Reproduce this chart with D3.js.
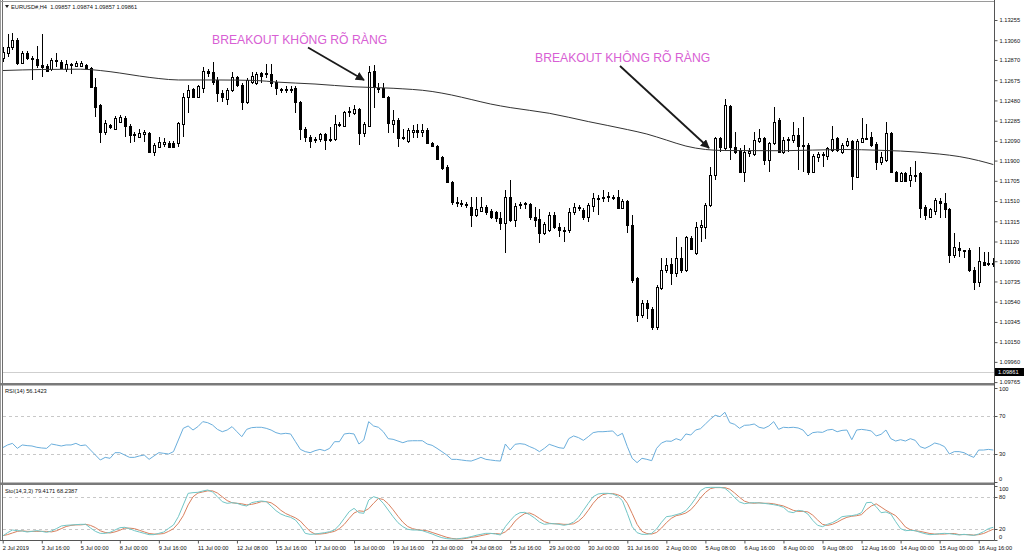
<!DOCTYPE html>
<html><head><meta charset="utf-8">
<script src="https://cdn.jsdelivr.net/npm/d3@7"></script>
<style>
html,body{margin:0;padding:0;background:#fff;}
svg{display:block;}
</style></head><body>
<svg id="c" width="1024" height="555"></svg>
<script>
// ---------- DATA ----------
const openP = [1.1289,1.1294,1.1299,1.1306,1.1284,1.1294,1.1289,1.1288,1.1282,1.1281,
1.1278,1.1286,1.1285,1.1278,1.1283,1.1281,1.1281,1.1282,1.1279,1.1261,
1.1244,1.1218,1.1224,1.1220,1.1227,1.1231,1.1223,1.1216,1.1213,1.1216,
1.1217,1.1198,1.1203,1.1206,1.1207,1.1207,1.1207,1.1225,1.1251,1.1259,
1.1251,1.1260,1.1276,1.1275,1.1268,1.1255,1.1249,1.1258,1.1271,1.1263,
1.1246,1.1266,1.1265,1.1274,1.1273,1.1273,1.1266,1.1259,1.1258,1.1259,
1.1260,1.1246,1.1220,1.1213,1.1211,1.1211,1.1216,1.1210,1.1211,1.1225,
1.1223,1.1237,1.1236,1.1240,1.1217,1.1223,1.1276,1.1260,1.1260,1.1251,
1.1225,1.1229,1.1213,1.1209,1.1218,1.1219,1.1218,1.1219,1.1207,1.1204,
1.1193,1.1184,1.1169,1.1150,1.1149,1.1148,1.1145,1.1138,1.1141,1.1145,
1.1141,1.1140,1.1135,1.1130,1.1155,1.1133,1.1147,1.1148,1.1148,1.1136,
1.1134,1.1120,1.1123,1.1138,1.1126,1.1123,1.1123,1.1140,1.1144,1.1142,
1.1136,1.1146,1.1153,1.1154,1.1155,1.1154,1.1155,1.1144,1.1151,1.1128,
1.1077,1.1041,1.1053,1.1047,1.1030,1.1067,1.1085,1.1090,1.1082,1.1096,
1.1085,1.1115,1.1101,1.1126,1.1126,1.1147,1.1176,1.1212,1.1202,1.1243,
1.1203,1.1200,1.1179,1.1197,1.1196,1.1209,1.1212,1.1191,1.1207,1.1229,
1.1198,1.1210,1.1210,1.1215,1.1205,1.1205,1.1179,1.1193,1.1195,1.1194,
1.1200,1.1212,1.1198,1.1205,1.1209,1.1174,1.1208,1.1211,1.1213,1.1206,
1.1189,1.1191,1.1217,1.1179,1.1170,1.1178,1.1171,1.1176,1.1178,1.1145,
1.1136,1.1141,1.1151,1.1149,1.1143,1.1099,1.1106,1.1104,1.1104,1.1085,
1.1073,1.1092,1.1091,1.1090];
const highP = [1.1299,1.1312,1.1313,1.1308,1.1296,1.1296,1.1291,1.1300,1.1312,1.1283,
1.1289,1.1294,1.1287,1.1287,1.1284,1.1286,1.1286,1.1283,1.1280,1.1270,
1.1245,1.1229,1.1225,1.1233,1.1234,1.1233,1.1225,1.1218,1.1220,1.1219,
1.1218,1.1207,1.1213,1.1212,1.1209,1.1209,1.1227,1.1255,1.1263,1.1260,
1.1263,1.1280,1.1278,1.1285,1.1271,1.1258,1.1260,1.1275,1.1272,1.1265,
1.1270,1.1275,1.1275,1.1275,1.1283,1.1283,1.1268,1.1260,1.1262,1.1262,
1.1262,1.1247,1.1222,1.1215,1.1213,1.1217,1.1217,1.1222,1.1234,1.1227,
1.1238,1.1242,1.1244,1.1241,1.1227,1.1281,1.1282,1.1265,1.1265,1.1252,
1.1239,1.1231,1.1220,1.1221,1.1224,1.1225,1.1225,1.1221,1.1208,1.1205,
1.1194,1.1186,1.1170,1.1155,1.1152,1.1150,1.1155,1.1155,1.1155,1.1147,
1.1143,1.1141,1.1140,1.1162,1.1171,1.1149,1.1150,1.1150,1.1149,1.1145,
1.1143,1.1131,1.1140,1.1140,1.1130,1.1126,1.1144,1.1149,1.1147,1.1144,
1.1149,1.1159,1.1157,1.1162,1.1160,1.1157,1.1162,1.1153,1.1152,1.1138,
1.1078,1.1056,1.1056,1.1049,1.1070,1.1096,1.1096,1.1096,1.1116,1.1107,
1.1117,1.1117,1.1131,1.1133,1.1149,1.1184,1.1213,1.1213,1.1249,1.1244,
1.1218,1.1202,1.1205,1.1202,1.1218,1.1220,1.1213,1.1208,1.1242,1.1231,
1.1213,1.1213,1.1227,1.1221,1.1232,1.1207,1.1196,1.1198,1.1198,1.1203,
1.1223,1.1213,1.1207,1.1212,1.1210,1.1211,1.1231,1.1225,1.1218,1.1208,
1.1198,1.1227,1.1218,1.1180,1.1179,1.1179,1.1184,1.1190,1.1179,1.1147,
1.1144,1.1154,1.1154,1.1159,1.1144,1.1120,1.1112,1.1104,1.1106,1.1087,
1.1107,1.1102,1.1102,1.1096];
const lowP = [1.1285,1.1290,1.1297,1.1282,1.1283,1.1287,1.1268,1.1279,1.1271,1.1275,
1.1276,1.1280,1.1278,1.1275,1.1273,1.1280,1.1280,1.1278,1.1260,1.1232,
1.1207,1.1215,1.1220,1.1219,1.1226,1.1213,1.1207,1.1208,1.1212,1.1208,
1.1197,1.1194,1.1202,1.1203,1.1202,1.1202,1.1203,1.1213,1.1236,1.1250,
1.1250,1.1255,1.1271,1.1263,1.1246,1.1246,1.1244,1.1256,1.1261,1.1239,
1.1245,1.1264,1.1263,1.1265,1.1270,1.1261,1.1253,1.1255,1.1255,1.1255,
1.1236,1.1210,1.1208,1.1202,1.1207,1.1208,1.1200,1.1208,1.1209,1.1222,
1.1222,1.1232,1.1234,1.1205,1.1213,1.1222,1.1241,1.1255,1.1250,1.1217,
1.1217,1.1203,1.1210,1.1207,1.1212,1.1212,1.1213,1.1206,1.1203,1.1191,
1.1181,1.1168,1.1147,1.1145,1.1145,1.1144,1.1126,1.1136,1.1140,1.1138,
1.1134,1.1131,1.1123,1.1101,1.1131,1.1126,1.1143,1.1143,1.1133,1.1126,
1.1111,1.1118,1.1121,1.1124,1.1116,1.1112,1.1120,1.1138,1.1141,1.1133,
1.1131,1.1140,1.1138,1.1150,1.1150,1.1152,1.1143,1.1143,1.1120,1.1072,
1.1034,1.1038,1.1037,1.1027,1.1027,1.1065,1.1082,1.1070,1.1078,1.1082,
1.1083,1.1104,1.1099,1.1112,1.1114,1.1145,1.1171,1.1198,1.1200,1.1191,
1.1196,1.1178,1.1169,1.1193,1.1194,1.1207,1.1186,1.1179,1.1205,1.1197,
1.1196,1.1198,1.1207,1.1181,1.1179,1.1176,1.1178,1.1189,1.1184,1.1191,
1.1198,1.1198,1.1196,1.1203,1.1162,1.1173,1.1207,1.1210,1.1203,1.1181,
1.1186,1.1189,1.1178,1.1169,1.1169,1.1169,1.1165,1.1169,1.1135,1.1133,
1.1135,1.1138,1.1135,1.1135,1.1091,1.1096,1.1097,1.1096,1.1083,1.1065,
1.1068,1.1088,1.1088,1.1087];
const closeP = [1.1295,1.1299,1.1306,1.1284,1.1294,1.1289,1.1288,1.1282,1.1280,1.1276,
1.1287,1.1287,1.1279,1.1283,1.1282,1.1284,1.1284,1.1279,1.1261,1.1242,
1.1218,1.1226,1.1222,1.1231,1.1232,1.1223,1.1215,1.1215,1.1217,1.1218,
1.1198,1.1205,1.1208,1.1208,1.1203,1.1203,1.1226,1.1251,1.1258,1.1251,
1.1262,1.1276,1.1274,1.1266,1.1255,1.1251,1.1258,1.1271,1.1263,1.1246,
1.1268,1.1272,1.1273,1.1272,1.1274,1.1265,1.1260,1.1258,1.1259,1.1258,
1.1246,1.1220,1.1213,1.1209,1.1210,1.1216,1.1210,1.1211,1.1225,1.1224,
1.1237,1.1238,1.1240,1.1217,1.1225,1.1275,1.1261,1.1259,1.1251,1.1226,
1.1229,1.1212,1.1212,1.1219,1.1219,1.1218,1.1219,1.1207,1.1204,1.1192,
1.1183,1.1169,1.1150,1.1149,1.1148,1.1147,1.1138,1.1143,1.1145,1.1140,
1.1136,1.1135,1.1130,1.1155,1.1133,1.1146,1.1148,1.1149,1.1136,1.1133,
1.1120,1.1129,1.1138,1.1126,1.1123,1.1122,1.1140,1.1145,1.1145,1.1136,
1.1147,1.1154,1.1154,1.1155,1.1156,1.1155,1.1144,1.1151,1.1128,1.1075,
1.1041,1.1053,1.1048,1.1030,1.1068,1.1085,1.1089,1.1082,1.1096,1.1085,
1.1116,1.1105,1.1126,1.1128,1.1147,1.1176,1.1212,1.1203,1.1244,1.1203,
1.1198,1.1179,1.1198,1.1199,1.1210,1.1212,1.1191,1.1207,1.1227,1.1198,
1.1210,1.1211,1.1215,1.1204,1.1204,1.1179,1.1194,1.1196,1.1196,1.1202,
1.1211,1.1200,1.1205,1.1209,1.1175,1.1209,1.1212,1.1212,1.1205,1.1189,
1.1193,1.1217,1.1179,1.1170,1.1178,1.1170,1.1176,1.1175,1.1144,1.1138,
1.1143,1.1152,1.1149,1.1143,1.1099,1.1107,1.1104,1.1103,1.1085,1.1073,
1.1093,1.1089,1.1090,1.1091];

// moving average, read at selected bars
const maIndex = [0,8,16,20,24,28,32,36,44,52,56,64,72,80,88,92,96,100,104,112,120,128,132,136,140,144,148,160,172,180,184,192,196,200,203];
const maValue = [1.12768,1.12778,1.12781,1.12768,1.12744,1.12715,1.12691,1.12677,1.12677,1.12672,1.12657,1.12638,1.12611,1.12597,1.12566,1.12532,1.12489,1.12445,1.12411,1.12356,1.12276,1.12199,1.12156,1.12098,1.12040,1.12007,1.11997,1.11995,1.12007,1.11999,1.11992,1.11963,1.11939,1.11900,1.11862];

const rsi = [36.5,39.4,41.1,35.8,39.4,38.7,38.3,36.9,36.2,35.8,
40.4,39.4,38.3,39.4,39.4,41.1,38.7,39.4,34.0,28.7,
23.4,26.2,25.2,31.2,31.2,28.7,26.2,26.2,27.7,28.7,
24.1,27.7,31.2,30.5,29.8,32.3,44.7,57.1,59.6,55.3,
58.9,64.2,63.1,60.6,56.0,53.5,55.3,58.9,53.5,48.2,
56.0,57.8,58.2,58.2,57.1,55.3,52.5,51.1,51.8,51.1,
42.9,34.7,32.3,31.2,33.3,34.7,33.3,35.8,42.9,42.9,
51.1,51.8,51.1,40.4,44.7,64.2,59.6,58.2,53.5,46.1,
45.4,43.6,41.8,43.6,43.9,43.9,43.9,40.4,39.0,35.8,
32.3,28.7,24.1,24.1,23.4,22.7,22.3,24.1,26.2,24.1,
23.4,22.7,22.3,40.4,34.0,40.1,40.8,40.1,37.6,35.5,
32.3,35.8,40.1,38.3,36.5,35.8,46.1,49.0,47.2,44.3,
48.2,52.5,53.5,53.5,53.9,54.3,49.0,51.8,37.6,25.2,
20.6,25.2,24.1,22.7,35.8,41.5,43.6,43.3,46.1,44.3,
51.1,50.0,55.3,56.7,61.7,66.7,71.0,69.5,74.2,63.1,
61.3,57.1,60.3,60.6,61.7,58.2,57.1,59.6,64.2,56.0,
58.2,57.8,58.2,57.5,55.3,49.0,52.5,53.2,52.8,55.3,
56.0,53.5,54.9,55.3,45.0,55.3,56.0,55.3,54.3,49.0,
50.7,55.3,46.1,43.6,45.0,43.6,46.1,44.3,37.6,35.8,
38.3,41.5,40.1,37.6,29.8,32.3,32.3,31.2,28.4,26.2,
34.0,34.0,34.7,34.0];

const stochK = [7.4,13.6,18.5,17.3,16.7,14.8,16.0,17.3,16.0,14.2,
16.7,21.0,25.9,27.2,27.8,28.4,29.0,29.0,22.2,16.0,
12.3,12.3,14.2,18.5,22.8,23.5,21.0,17.3,14.8,12.3,
9.9,9.9,12.3,14.8,21.6,27.8,43.2,64.8,86.4,87.7,
88.3,90.7,92.6,88.9,80.2,71.0,67.9,69.1,67.9,64.8,
63.0,69.1,71.0,72.2,71.0,63.0,54.3,48.1,44.4,42.0,
37.0,25.9,12.3,10.5,11.1,12.3,13.6,15.4,18.5,27.8,
40.1,52.5,58.6,50.6,49.4,74.0,80.2,77.2,67.9,55.5,
43.2,32.1,24.7,19.8,18.5,18.5,17.3,14.2,11.1,7.4,
4.3,2.5,1.9,1.9,3.1,4.3,6.2,8.6,10.5,12.3,
12.3,11.1,9.3,24.7,35.8,45.7,50.6,51.2,46.9,40.7,
33.3,29.0,30.2,30.2,29.0,27.2,29.0,33.3,42.0,54.9,
67.9,80.2,85.2,86.4,86.4,85.2,81.5,72.8,49.4,24.7,
13.6,10.5,10.5,12.3,20.4,32.7,43.2,44.4,46.9,49.4,
54.3,64.8,77.2,91.4,96.9,97.5,97.5,97.5,95.7,88.3,
78.4,70.4,67.3,68.5,69.1,68.5,67.9,66.7,65.4,63.6,
60.5,52.5,50.6,54.9,53.7,48.1,36.4,27.2,24.7,29.0,
32.1,37.0,43.2,44.4,45.1,46.9,50.6,69.1,69.8,61.7,
50.6,51.9,48.1,33.9,21.0,17.3,17.9,17.3,14.2,11.7,
9.9,10.5,11.7,12.3,11.7,10.5,9.3,10.5,9.3,8.6,
11.1,15.4,21.0,23.5];

const stochD = [8,10,13,16,17,16,16,16,16,16,
15,17,21,25,27,28,28,29,27,23,
17,14,13,15,18,22,22,21,18,15,
12,11,11,12,16,21,31,45,65,80,
87,89,91,91,87,80,73,69,68,67,
65,66,68,71,71,69,63,55,49,45,
41,35,25,16,11,11,12,14,16,21,
29,40,50,54,53,58,68,77,75,67,
56,44,33,25,21,19,18,17,14,11,
8,5,3,2,2,3,5,6,8,10,
12,12,11,15,23,35,43,49,50,46,
40,34,31,30,30,29,29,30,35,43,
55,68,78,84,86,86,84,80,68,49,
29,16,12,11,14,22,32,40,45,47,
50,56,66,78,88,95,97,97,97,94,
87,79,72,69,68,69,68,68,67,65,
63,59,55,53,53,52,46,37,29,27,
29,33,38,42,44,45,47,56,63,67,
61,55,50,45,35,24,19,17,16,14,
12,11,11,11,12,12,10,10,10,9,
10,12,16,20];

const timeLabels = ["2 Jul 2019","3 Jul 16:00","5 Jul 00:00","8 Jul 00:00","9 Jul 16:00","11 Jul 00:00","12 Jul 08:00","15 Jul 16:00","17 Jul 00:00","18 Jul 00:00","19 Jul 16:00","23 Jul 00:00","24 Jul 08:00","25 Jul 16:00","29 Jul 00:00","30 Jul 00:00","31 Jul 16:00","2 Aug 00:00","5 Aug 08:00","6 Aug 16:00","8 Aug 00:00","9 Aug 08:00","12 Aug 16:00","14 Aug 00:00","15 Aug 00:00","16 Aug 16:00"];
const priceTicks = [1.13255,1.13060,1.12870,1.12675,1.12480,1.12285,1.12090,1.11900,1.11705,1.11510,1.11315,1.11120,1.10930,1.10735,1.10540,1.10345,1.10150,1.09960,1.09765];
const rsiLevels = [70,30];
const rsiTicks = [100,70,30,0];
const stochLevels = [80,20];
const stochTicks = [100,80,20,0];
const bidPrice = 1.09861;
const headerText = "EURUSD#,H4  1.09857 1.09874 1.09857 1.09861";
const rsiText = "RSI(14) 56.1423";
const stochText = "Sto(14,3,3) 79.4171 68.2387";
const notes = [
  {text:"BREAKOUT KHÔNG RÕ RÀNG", from:[308,47.5], to:[364,80], tx:212, ty:43.5},
  {text:"BREAKOUT KHÔNG RÕ RÀNG", from:[620,66], to:[709,148], tx:535, ty:62}
];

// ---------- LAYOUT ----------
const plotR = 994;
const mainTop = 1.5, mainBot = 383.5;
const rsiTop = 385.5, rsiBot = 482.5;
const stTop = 485.5, stBot = 540.5;
const smallFont = "'Liberation Sans', Arial, sans-serif";

const svg = d3.select("#c");
const N = openP.length;
const x = d3.scaleLinear().domain([0, N - 1]).range([2.7, 993.3]);
const yP = d3.scaleLinear().domain([1.09765, 1.13255]).range([382.1, 20]);
const yR = d3.scaleLinear().domain([0, 100]).range([482, 388]);
const yS = d3.scaleLinear().domain([0, 100]).range([540, 486]);

svg.append("rect").attr("width",1024).attr("height",555).attr("fill","#fff");

// clip for main
const defs = svg.append("defs");
defs.append("clipPath").attr("id","clipMain").append("rect")
  .attr("x",3).attr("y",mainTop).attr("width",plotR-3).attr("height",mainBot-mainTop);
defs.append("marker").attr("id","ah").attr("viewBox","0 0 10 10")
  .attr("refX",9).attr("refY",5).attr("markerWidth",5).attr("markerHeight",5)
  .attr("orient","auto").attr("markerUnits","strokeWidth")
  .append("path").attr("d","M0,0 L10,5 L0,10 z").attr("fill","#1a1a1a");

// bid line
svg.append("line").attr("x1",3).attr("x2",plotR).attr("y1",Math.round(yP(bidPrice))+0.5).attr("y2",Math.round(yP(bidPrice))+0.5)
  .attr("stroke","#cfcfcf").attr("stroke-width",1);

// RSI / stoch level lines
const lv = svg.append("g").attr("stroke","#c8c8c8").attr("stroke-dasharray","3,3").attr("stroke-width",1);
rsiLevels.forEach(v=>lv.append("line").attr("x1",3).attr("x2",plotR).attr("y1",Math.round(yR(v))+0.5).attr("y2",Math.round(yR(v))+0.5));
stochLevels.forEach(v=>lv.append("line").attr("x1",3).attr("x2",plotR).attr("y1",Math.round(yS(v))+0.5).attr("y2",Math.round(yS(v))+0.5));

// candles
const cg = svg.append("g").attr("clip-path","url(#clipMain)");
d3.range(N).forEach(i=>{
  const cx = Math.round(x(i)) + 0.5;
  const o = openP[i], c = closeP[i], h = highP[i], l = lowP[i];
  cg.append("line").attr("x1",cx).attr("x2",cx)
    .attr("y1",Math.round(yP(h))).attr("y2",Math.round(yP(l)))
    .attr("stroke","#000").attr("stroke-width",1);
  const top = Math.round(yP(Math.max(o,c))), bot = Math.round(yP(Math.min(o,c)));
  if (bot - top < 1) {
    cg.append("line").attr("x1",cx-1.5).attr("x2",cx+1.5).attr("y1",top+0.5).attr("y2",top+0.5)
      .attr("stroke","#000").attr("stroke-width",1);
  } else {
    cg.append("rect").attr("x",cx-1).attr("y",top+0.5).attr("width",2).attr("height",bot-top)
      .attr("fill", c >= o ? "#fff" : "#000").attr("stroke","#000").attr("stroke-width",1);
  }
});

// moving average
cg.append("path").datum(maIndex.map((b,k)=>[b,maValue[k]]))
  .attr("d", d3.line().x(d=>x(d[0])).y(d=>yP(d[1])).curve(d3.curveMonotoneX))
  .attr("fill","none").attr("stroke","#333").attr("stroke-width",1);

// RSI line
svg.append("path").datum(rsi)
  .attr("d", d3.line().x((d,i)=>x(i)).y(d=>yR(d)))
  .attr("fill","none").attr("stroke","#6aaedc").attr("stroke-width",1);

// Stoch lines
svg.append("path").datum(stochD)
  .attr("d", d3.line().x((d,i)=>x(i)).y(d=>yS(d)))
  .attr("fill","none").attr("stroke","#d9805e").attr("stroke-width",1);
svg.append("path").datum(stochK)
  .attr("d", d3.line().x((d,i)=>x(i)).y(d=>yS(d)))
  .attr("fill","none").attr("stroke","#72c6c6").attr("stroke-width",1);

// frames
const fr = svg.append("g").attr("fill","none");
fr.append("line").attr("x1",0.5).attr("x2",0.5).attr("y1",0).attr("y2",541).attr("stroke","#9a9a9a");
fr.append("line").attr("x1",2.5).attr("x2",2.5).attr("y1",0).attr("y2",541).attr("stroke","#6e6e6e");
fr.append("line").attr("x1",0).attr("x2",plotR).attr("y1",mainTop).attr("y2",mainTop).attr("stroke","#9a9a9a");
fr.append("rect").attr("x",0).attr("y",383).attr("width",plotR).attr("height",2.5).attr("fill","#7a7a7a").attr("stroke","none");
fr.append("rect").attr("x",0).attr("y",482.5).attr("width",plotR).attr("height",2.5).attr("fill","#7a7a7a").attr("stroke","none");
fr.append("line").attr("x1",0).attr("x2",plotR+0.5).attr("y1",stBot).attr("y2",stBot).attr("stroke","#555");
fr.append("line").attr("x1",plotR+0.5).attr("x2",plotR+0.5).attr("y1",0).attr("y2",stBot).attr("stroke","#555");

// price axis
const pa = svg.append("g").attr("transform",`translate(${plotR+0.5},0)`)
  .call(d3.axisRight(yP).tickValues(priceTicks).tickFormat(d3.format(".5f")).tickSize(3).tickPadding(2));
pa.select(".domain").remove();
pa.selectAll("text").attr("font-size","5.7px").attr("font-family",smallFont).attr("fill","#111");
pa.selectAll("line").attr("stroke","#555");

// bid label
const bidY = Math.round(yP(bidPrice));
svg.append("rect").attr("x",plotR+1).attr("y",bidY-4).attr("width",30).attr("height",8).attr("fill","#000");
svg.append("text").attr("x",plotR+4).attr("y",bidY+2).text(d3.format(".5f")(bidPrice))
  .attr("font-size","5.7px").attr("font-family",smallFont).attr("fill","#fff");

// RSI & stoch right labels
function sideLabels(ticks, scale, top, bot){
  ticks.forEach(v=>{
    const yy = scale(v);
    const cy = Math.max(top+3.5, Math.min(bot-3.5, yy));
    svg.append("line").attr("x1",plotR+0.5).attr("x2",plotR+3.5).attr("y1",Math.round(yy)+0.5).attr("y2",Math.round(yy)+0.5).attr("stroke","#555");
    svg.append("text").attr("x",plotR+5).attr("y",cy+2).text(v)
      .attr("font-size","5.7px").attr("font-family",smallFont).attr("fill","#111");
  });
}
sideLabels(rsiTicks, yR, rsiTop, rsiBot);
sideLabels(stochTicks, yS, stTop, stBot);

// time axis
const labelBars = timeLabels.map((t,k)=>k*8);
const ta = svg.append("g").attr("transform",`translate(0,${stBot})`)
  .call(d3.axisBottom(x).tickValues(labelBars).tickFormat((d,k)=>timeLabels[k]).tickSize(3).tickPadding(2));
ta.select(".domain").remove();
ta.selectAll("line").attr("stroke","#555");
ta.selectAll("text").attr("text-anchor","start").attr("dx","-0.5").attr("font-size","5.7px")
  .attr("font-family",smallFont).attr("fill","#111");

// header texts
svg.append("path").attr("d","M5,5 L9,5 L7,8 z").attr("fill","#222");
svg.append("text").attr("x",11).attr("y",8.5).text(headerText)
  .attr("font-size","5.7px").attr("font-family",smallFont).attr("fill","#111").attr("xml:space","preserve");
svg.append("text").attr("x",5).attr("y",393).text(rsiText)
  .attr("font-size","5.7px").attr("font-family",smallFont).attr("fill","#111");
svg.append("text").attr("x",5).attr("y",493).text(stochText)
  .attr("font-size","5.7px").attr("font-family",smallFont).attr("fill","#111");

// annotations
notes.forEach(n=>{
  svg.append("line").attr("x1",n.from[0]).attr("y1",n.from[1]).attr("x2",n.to[0]).attr("y2",n.to[1])
    .attr("stroke","#1a1a1a").attr("stroke-width",1.8).attr("marker-end","url(#ah)");
  svg.append("text").attr("x",n.tx).attr("y",n.ty).text(n.text)
    .attr("font-size","12.2px").attr("font-family","'Liberation Sans', Arial, sans-serif")
    .attr("fill","#d85fd4");
});
</script>
</body></html>
